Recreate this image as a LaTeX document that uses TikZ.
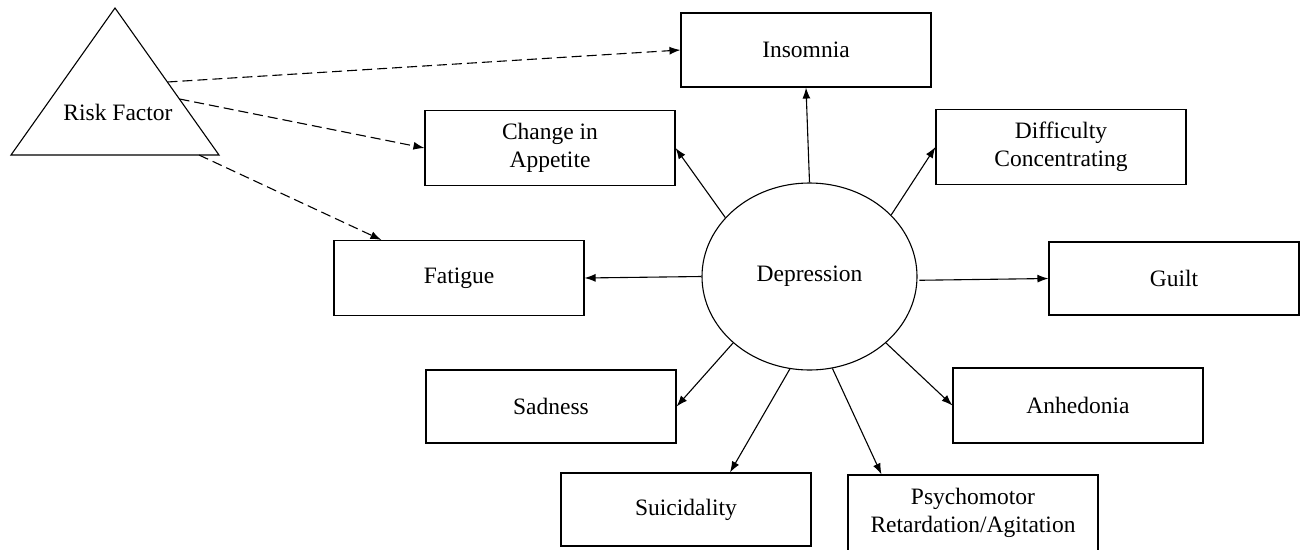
\documentclass[tikz,border=0pt]{standalone}
\usepackage{fontspec}
\setmainfont{Liberation Serif}
\usetikzlibrary{arrows.meta,shapes.geometric}
\begin{document}
\begin{tikzpicture}[x=1pt,y=-1pt,
  box/.style={draw, line width=1.1pt, minimum width=250pt, minimum height=75pt, inner sep=0pt, align=center, font=\fontsize{23.5}{28.5}\selectfont},
  arr/.style={-{Latex[length=11pt,width=8pt]}, line width=1.1pt},
  darr/.style={arr, dash pattern=on 10pt off 5pt}]
\useasboundingbox (0,0) rectangle (1308,549);
\clip (0,0) rectangle (1308,549);
% triangle
\coordinate (tA) at (115,8);
\coordinate (tL) at (11,155);
\coordinate (tR) at (219,155);
\draw[line width=1.1pt, line join=miter] (tA) -- (tL) -- (tR) -- cycle;
\node[font=\fontsize{23.5}{28.5}\selectfont] (risk) at (118,112) {Risk Factor};
\coordinate (r1) at (167.5,82);
\coordinate (r2) at (179.5,99);
\coordinate (r3) at (199,155);
% nodes
\node[ellipse, draw, line width=1.1pt, minimum width=215pt, minimum height=187pt, inner sep=0pt, font=\fontsize{23.5}{28.5}\selectfont] (dep) at (809.5,276.5) {Depression};
\node[box, minimum height=74pt] (ins) at (806,50) {Insomnia};
\node[box] (app) at (550,148) {Change in\\Appetite};
\node[box] (diff) at (1061,147) {Difficulty\\Concentrating};
\node[box] (fat) at (459,278) {Fatigue};
\node[box, minimum height=73pt] (guilt) at (1174,278.5) {Guilt};
\node[box, minimum height=73pt] (sad) at (551,406.5) {Sadness};
\node[box] (anh) at (1078,405.5) {Anhedonia};
\node[box, minimum height=73pt] (sui) at (686,509.5) {Suicidality};
\node[box, minimum height=76pt] (psy) at (973,513) {Psychomotor\\Retardation/Agitation};
% solid arrows
\draw[arr] (dep.90) -- (ins.south);
\draw[arr] (dep.145) -- (app.east);
\draw[arr] (dep.37) -- (diff.west);
\draw[arr] (dep.180) -- (fat.east);
\draw[arr] ([xshift=2pt]dep.-2) -- (guilt.west);
\draw[arr] (dep.-139) -- (sad.east);
\draw[arr] (dep.-41) -- (anh.west);
\draw[arr] (dep.-102) -- ([xshift=44pt]sui.north);
\draw[arr] (dep.-76) -- ([xshift=34pt]psy.north west);
% dashed arrows
\draw[darr] (r1) -- (ins.west);
\draw[darr] (r2) -- (app.west);
\draw[darr] (r3) -- ([xshift=48pt]fat.north west);
\end{tikzpicture}
\end{document}
